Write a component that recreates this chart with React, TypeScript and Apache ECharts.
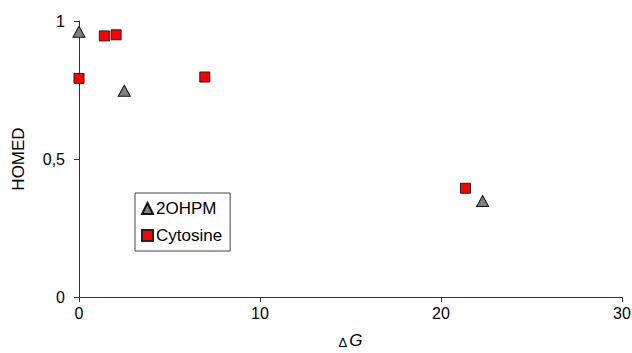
import React, { useEffect, useRef } from "react";
import * as echarts from "echarts";

const seriesNames = ["2OHPM", "Cytosine"];
const ohpmX = [0, 2.5, 22.3];
const ohpmY = [0.961, 0.747, 0.348];
const cytX = [0, 1.4, 2.05, 6.95, 21.35];
const cytY = [0.792, 0.946, 0.95, 0.797, 0.394];
const xTicks = [0, 10, 20, 30];
const yTicks = [0, 0.5, 1];

const FONT = "Liberation Sans";

export default function App() {
  const ref = useRef<HTMLDivElement>(null);
  useEffect(() => {
    if (!ref.current) return;
    const chart = echarts.init(ref.current, undefined, { renderer: "svg" });
    const axisCommon = {
      axisLine: { lineStyle: { color: "#333", width: 1 } },
      axisTick: { show: true, inside: false, length: 5, lineStyle: { color: "#333" } },
      splitLine: { show: false },
    };
    chart.setOption({
      animation: false,
      backgroundColor: "#fff",
      textStyle: { fontFamily: FONT },
      grid: { left: 79, right: 10, top: 21, bottom: 56, containLabel: false, outerBoundsMode: "none" },
      legend: {
        orient: "vertical",
        left: 135,
        top: 193,
        padding: [7, 8, 7, 6],
        borderColor: "#444",
        borderWidth: 1,
        itemWidth: 11,
        itemHeight: 11,
        itemGap: 10,
        textStyle: { fontFamily: FONT, fontSize: 17, color: "#000", padding: [0, 0, 0, -2] },
        data: seriesNames,
      },
      xAxis: {
        type: "value",
        min: xTicks[0],
        max: xTicks[xTicks.length - 1],
        interval: 10,
        ...axisCommon,
        axisLabel: { color: "#000", fontSize: 16, fontFamily: FONT, margin: 8 },
        name: "{d|Δ}{g|G}",
        nameLocation: "middle",
        nameGap: 35,
        nameTextStyle: {
          rich: {
            d: { fontSize: 13, lineHeight: 17, fontFamily: FONT, color: "#000", padding: [4, 2, 0, 0] },
            g: { fontSize: 17, lineHeight: 17, fontStyle: "italic", fontFamily: FONT, color: "#000" },
          },
        },
      },
      yAxis: {
        type: "value",
        min: yTicks[0],
        max: yTicks[yTicks.length - 1],
        interval: 0.5,
        ...axisCommon,
        axisLabel: {
          color: "#000",
          fontSize: 16,
          fontFamily: FONT,
          margin: 14,
          formatter: (v: number) => String(v).replace(".", ","),
        },
        name: "HOMED",
        nameLocation: "middle",
        nameGap: 52,
        nameTextStyle: { color: "#000", fontSize: 17, fontFamily: FONT },
      },
      series: [
        {
          name: seriesNames[0],
          type: "scatter",
          symbol: "triangle",
          symbolSize: [12, 11],
          itemStyle: { color: "#808080", borderColor: "#111", borderWidth: 1, opacity: 1 },
          data: ohpmX.map((x, i) => [x, ohpmY[i]]),
          z: 3,
        },
        {
          name: seriesNames[1],
          type: "scatter",
          symbol: "rect",
          symbolSize: 10,
          itemStyle: { color: "#ff0000", borderColor: "#222", borderWidth: 1, opacity: 1 },
          data: cytX.map((x, i) => [x, cytY[i]]),
          z: 2,
        },
      ],
    });
    return () => chart.dispose();
  }, []);
  return <div ref={ref} style={{ width: 632, height: 353, position: "absolute", left: 0, top: 0 }} />;
}
